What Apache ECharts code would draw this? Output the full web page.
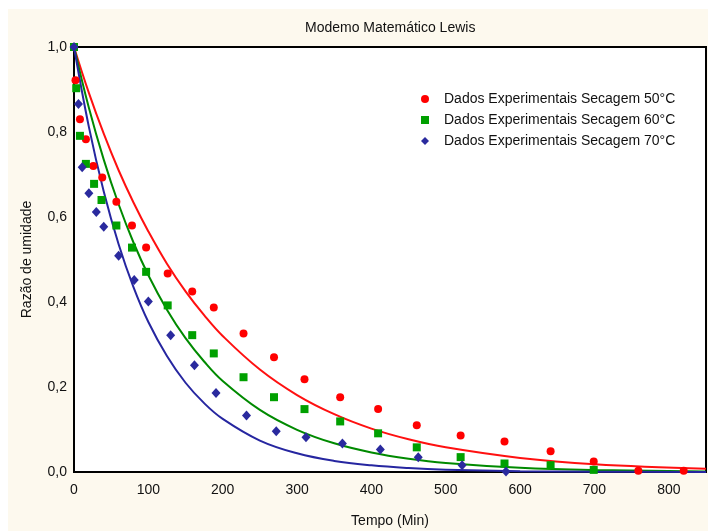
<!DOCTYPE html>
<html>
<head>
<meta charset="utf-8">
<script src="https://cdn.jsdelivr.net/npm/echarts@6/dist/echarts.min.js"></script>
<style>
  html, body { margin: 0; padding: 0; background: #ffffff; }
  #bg { position: absolute; left: 8px; top: 9px; width: 700px; height: 522px; background: #fdf9ee; }
  #chart { position: absolute; left: 0; top: 0; width: 708px; height: 531px; }
</style>
</head>
<body>
<div id="bg"></div>
<div id="chart"></div>
<script>
// pontos experimentais (tempo em min, razão de umidade)
const t50 = [0, 2, 8, 16, 26, 38, 57, 78, 97, 126, 159, 188, 228, 269, 310, 358, 409, 461, 520, 579, 641, 699, 759, 820];
const mr50 = [1.0, 0.922, 0.830, 0.783, 0.720, 0.693, 0.636, 0.580, 0.528, 0.467, 0.425, 0.387, 0.326, 0.270, 0.218, 0.176, 0.148, 0.110, 0.086, 0.072, 0.049, 0.025, 0.003, 0.003];

const t60 = [0, 3, 8, 16, 27, 37, 57, 78, 97, 126, 159, 188, 228, 269, 310, 358, 409, 461, 520, 579, 641, 699];
const mr60 = [1.0, 0.903, 0.791, 0.725, 0.678, 0.640, 0.580, 0.528, 0.471, 0.392, 0.322, 0.279, 0.223, 0.176, 0.148, 0.119, 0.091, 0.058, 0.035, 0.020, 0.016, 0.005];

const t70 = [0, 6, 11, 20, 30, 40, 60, 81, 100, 130, 162, 191, 232, 272, 312, 361, 412, 463, 522, 581];
const mr70 = [1.0, 0.866, 0.717, 0.656, 0.612, 0.577, 0.509, 0.452, 0.401, 0.322, 0.251, 0.186, 0.133, 0.096, 0.082, 0.067, 0.053, 0.035, 0.016, 0.001];

// curvas do modelo de Lewis
const tFit = [0, 20, 40, 60, 80, 100, 125, 150, 175, 200, 250, 300, 350, 400, 450, 500, 600, 700, 850];
const fit50 = [1.0, 0.892, 0.796, 0.710, 0.634, 0.566, 0.490, 0.425, 0.369, 0.320, 0.241, 0.181, 0.136, 0.102, 0.0769, 0.058, 0.033, 0.0185, 0.0079];
const fit60 = [1.0, 0.857, 0.735, 0.630, 0.540, 0.463, 0.382, 0.315, 0.260, 0.214, 0.146, 0.0993, 0.0675, 0.046, 0.0313, 0.0213, 0.0099, 0.0046, 0.0014];
const fit70 = [1.0, 0.812, 0.660, 0.536, 0.435, 0.353, 0.273, 0.210, 0.162, 0.125, 0.074, 0.044, 0.026, 0.0156, 0.0093, 0.0055, 0.0019, 0.0007, 0.0001];

const names = ['Dados Experimentais Secagem 50°C', 'Dados Experimentais Secagem 60°C', 'Dados Experimentais Secagem 70°C'];

const zip = (xs, ys) => xs.map((x, i) => [x, ys[i]]);
const font = 'Liberation Sans, Arial, sans-serif';

const chart = echarts.init(document.getElementById('chart'));
chart.setOption({
  backgroundColor: 'transparent',
  animation: false,
  title: {
    text: 'Modemo Matemático Lewis',
    left: 300,
    top: 16,
    textStyle: { fontFamily: font, fontSize: 14, fontWeight: 'normal', color: '#111' }
  },
  legend: {
    data: names,
    orient: 'vertical',
    left: 416,
    top: 86,
    itemWidth: 8,
    itemHeight: 8,
    itemGap: 5,
    textStyle: { fontFamily: font, fontSize: 14, color: '#111', padding: [0, 0, 0, 10], lineHeight: 16 }
  },
  grid: {
    left: 74, top: 47, right: 2, bottom: 59,
    outerBoundsMode: 'none',
    containLabel: false,
    show: true,
    backgroundColor: '#ffffff',
    borderColor: '#000',
    borderWidth: 2
  },
  xAxis: {
    type: 'value',
    min: 0, max: 850, interval: 100,
    name: 'Tempo (Min)',
    nameLocation: 'middle',
    nameGap: 42,
    nameTextStyle: { fontFamily: font, fontSize: 14, color: '#111' },
    axisLine: { lineStyle: { color: '#000', width: 2 } },
    axisTick: { show: false },
    splitLine: { show: false },
    axisLabel: {
      margin: 11,
      fontFamily: font, fontSize: 14, color: '#111',
      formatter: v => (v % 100 === 0 ? String(v) : '')
    }
  },
  yAxis: {
    type: 'value',
    min: 0, max: 1, interval: 0.2,
    name: 'Razão de umidade',
    nameLocation: 'middle',
    nameGap: 40,
    nameTextStyle: { fontFamily: font, fontSize: 14, color: '#111' },
    axisLine: { lineStyle: { color: '#000', width: 2 } },
    axisTick: { show: false },
    splitLine: { show: false },
    axisLabel: {
      margin: 7,
      fontFamily: font, fontSize: 14, color: '#111',
      formatter: v => v.toFixed(1).replace('.', ',')
    }
  },
  series: [
    { name: 'fit50', type: 'line', data: zip(tFit, fit50), smooth: 0.4, showSymbol: false, lineStyle: { color: '#ff1010', width: 2 }, z: 2 },
    { name: 'fit60', type: 'line', data: zip(tFit, fit60), smooth: 0.4, showSymbol: false, lineStyle: { color: '#008a00', width: 2 }, z: 2 },
    { name: 'fit70', type: 'line', data: zip(tFit, fit70), smooth: 0.4, showSymbol: false, lineStyle: { color: '#2626a0', width: 2 }, z: 2 },
    { name: names[0], type: 'scatter', data: zip(t50, mr50), symbol: 'circle', symbolSize: 8, itemStyle: { color: '#ff0000', opacity: 1 }, z: 3 },
    { name: names[1], type: 'scatter', data: zip(t60, mr60), symbol: 'rect', symbolSize: 8, itemStyle: { color: '#00a000', opacity: 1 }, z: 3 },
    { name: names[2], type: 'scatter', data: zip(t70, mr70), symbol: 'diamond', symbolSize: [9, 10], itemStyle: { color: '#2a2a9e', opacity: 1 }, z: 3 }
  ]
});
</script>
</body>
</html>
